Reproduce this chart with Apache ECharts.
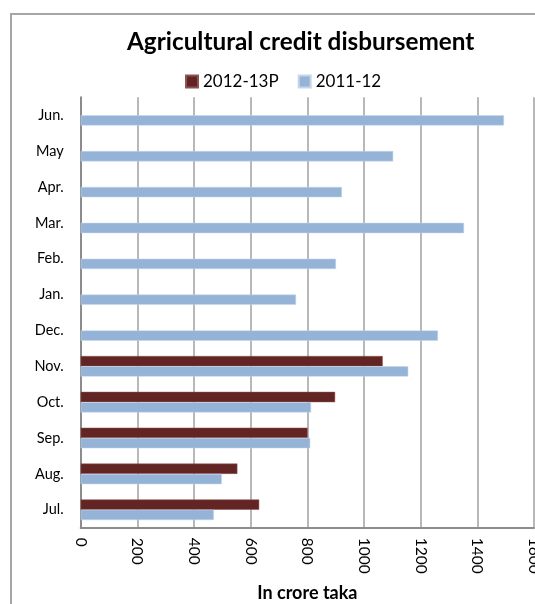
<!DOCTYPE html>
<html>
<head>
<meta charset="utf-8">
<script src="https://cdn.jsdelivr.net/npm/echarts@6/dist/echarts.min.js"></script>
<style>
html,body{margin:0;padding:0;background:#fff;}
#chart{width:535px;height:604px;}
</style>
</head>
<body>
<div id="chart"></div>
<script>
var months = ['Jul.', 'Aug.', 'Sep.', 'Oct.', 'Nov.', 'Dec.', 'Jan.', 'Feb.', 'Mar.', 'Apr.', 'May', 'Jun.'];
var fy2012_13P = [630, 553, 801, 898, 1066, null, null, null, null, null, null, null];
var fy2011_12 = [470, 498, 810, 813, 1156, 1261, 760, 901, 1353, 922, 1103, 1494];
var xTicks = [0, 200, 400, 600, 800, 1000, 1200, 1400, 1600];
var seriesNames = ['2012-13P', '2011-12'];

var FONT = 'Lato';
var chart = echarts.init(document.getElementById('chart'), null, {renderer: 'canvas'});
chart.setOption({
  animation: false,
  backgroundColor: '#ffffff',
  graphic: [{
    type: 'rect',
    shape: {x: 11, y: 14, width: 700, height: 800},
    style: {fill: 'none', stroke: '#a6a6a6', lineWidth: 2},
    silent: true
  }],
  title: {
    text: 'Agricultural credit disbursement',
    left: 122,
    top: 25,
    textStyle: {fontFamily: FONT, fontWeight: 'bold', fontSize: 24.3, color: '#000'}
  },
  legend: {
    data: seriesNames,
    left: 180,
    top: 68,
    itemWidth: 12,
    itemHeight: 12,
    itemGap: 19,
    icon: 'rect',
    textStyle: {fontFamily: FONT, fontSize: 17, color: '#000'}
  },
  grid: {left: 80.7, right: 1, top: 97.3, bottom: 76.3, containLabel: false, outerBoundsMode: 'none'},
  xAxis: {
    type: 'value',
    min: xTicks[0],
    max: xTicks[xTicks.length - 1],
    interval: xTicks[1] - xTicks[0],
    name: 'In crore taka',
    nameLocation: 'middle',
    nameGap: 56,
    nameMoveOverlap: false,
    nameTextStyle: {fontFamily: FONT, fontWeight: 'bold', fontSize: 18, color: '#000'},
    axisLine: {show: true, lineStyle: {color: '#8c8c8c', width: 2}},
    axisTick: {show: false},
    splitLine: {show: true, lineStyle: {color: '#a0a0a0', width: 1.5}},
    axisLabel: {rotate: -90, margin: 10, fontFamily: FONT, fontSize: 15.5, color: '#000',
      formatter: function (v) { return String(v); }}
  },
  yAxis: {
    type: 'category',
    data: months,
    axisLine: {show: true, lineStyle: {color: '#8c8c8c', width: 2}},
    axisTick: {show: false},
    axisLabel: {margin: 17, fontFamily: FONT, fontSize: 14.5, color: '#000'}
  },
  series: [{
    name: seriesNames[0],
    type: 'bar',
    data: fy2012_13P,
    barWidth: 10.3,
    barGap: '0%',
    itemStyle: {color: '#632523', borderColor: '#8a5553', borderWidth: 0.5}
  }, {
    name: seriesNames[1],
    type: 'bar',
    data: fy2011_12,
    barWidth: 10.3,
    barGap: '0%',
    itemStyle: {color: '#95b3d7', borderColor: '#c5d6ea', borderWidth: 0.5}
  }]
});
</script>
</body>
</html>
